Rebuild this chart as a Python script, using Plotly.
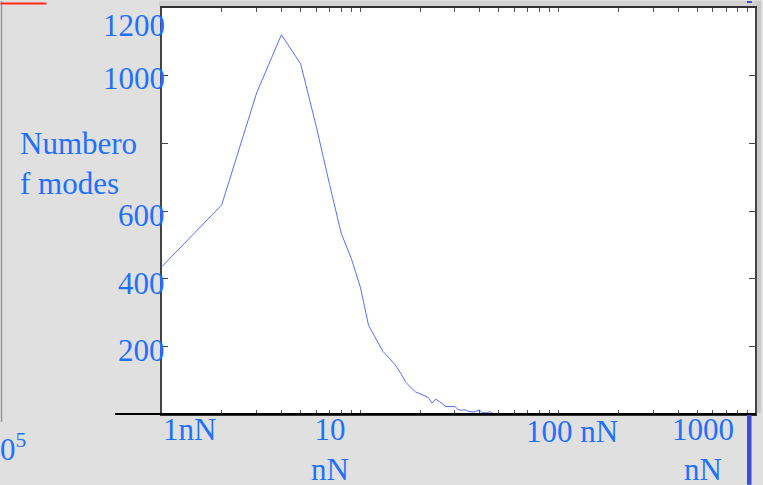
import plotly.graph_objects as go

# ---- data ----
force_nN = list(range(1, 48)) + [60, 100, 1000]
modes = [436, 618, 949, 1121, 1035, 849, 678, 535, 460, 375,
         262, 220, 185, 165, 145, 120, 93, 78, 65, 60,
         55, 49, 32, 44, 37, 28, 22, 22, 23, 22,
         14, 11, 12, 12, 8, 6, 6, 8, 10, 11,
         5, 4, 3, 5, 7, 3, 0, 0, 0, 0]
y_tick_vals = [200, 400, 600, 800, 1000, 1200]
y_tick_text = ["200", "400", "600", "", "1000", "1200"]
x_tick_text = ["1nN", "10<br>nN", "100 nN", "1000<br>nN"]

W, H = 763, 485
L, R, T, B = 162, 757, 7, 414
BLUE = "#1f70ff"
FONT = "Liberation Serif"
FS = 31

def px(x):
    return (x - L) / (R - L)

def py(y):
    return (B - y) / (B - T)

fig = go.Figure()
fig.add_trace(go.Scatter(x=force_nN, y=modes, mode="lines",
                         line=dict(color="#5470ff", width=1),
                         hoverinfo="skip", showlegend=False))

# minor/major log ticks
tv = [m * 10 ** d for d in range(0, 3) for m in range(1, 10)]
fig.update_xaxes(type="log", range=[0, 2.99], tickvals=tv,
                 ticktext=[""] * len(tv), ticks="inside", ticklen=4,
                 tickcolor="#555", showline=True, linecolor="#333",
                 linewidth=1.5, mirror="ticks", showgrid=False,
                 zeroline=False)
fig.update_yaxes(range=[0, 1200], tickvals=y_tick_vals,
                 ticktext=[""] * len(y_tick_vals), ticks="inside",
                 ticklen=6, tickcolor="#444", showline=True,
                 linecolor="#444", linewidth=1.5, mirror="ticks",
                 showgrid=False, zeroline=False)

shapes = []
# top band
shapes.append(dict(type="rect", xref="paper", yref="paper",
                   x0=px(159), x1=px(763), y0=py(6.5), y1=py(0),
                   fillcolor="#d2d2d2", line=dict(width=0), layer="below"))
# right band
shapes.append(dict(type="rect", xref="paper", yref="paper",
                   x0=px(757.5), x1=px(763), y0=py(413), y1=py(0),
                   fillcolor="#c8c8c8", line=dict(width=0), layer="below"))
# bottom thick axis line
shapes.append(dict(type="line", xref="paper", yref="paper",
                   x0=px(115), x1=px(758), y0=py(414), y1=py(414),
                   line=dict(color="black", width=2.2)))
# left vertical gray line
shapes.append(dict(type="line", xref="paper", yref="paper",
                   x0=px(1), x1=px(1), y0=py(422), y1=py(0),
                   line=dict(color="#999999", width=1.5)))
# red short line top-left
shapes.append(dict(type="line", xref="paper", yref="paper",
                   x0=px(0), x1=px(46), y0=py(2.5), y1=py(2.5),
                   line=dict(color="#ff2a10", width=2)))
# blue bar bottom-right
shapes.append(dict(type="rect", xref="paper", yref="paper",
                   x0=px(749), x1=px(753.5), y0=py(485), y1=py(415),
                   fillcolor="#3d4ed6", line=dict(width=0)))
shapes.append(dict(type="rect", xref="paper", yref="paper",
                   x0=px(749), x1=px(754), y0=py(2), y1=py(0),
                   fillcolor="#3d4ed6", line=dict(width=0)))

ann = []
# y tick labels (custom offsets as in picture)
y_label_px = {"200": 350, "400": 283, "600": 215, "1000": 78, "1200": 25}
for v, t in zip(y_tick_vals, y_tick_text):
    if not t:
        continue
    ann.append(dict(text=t, xref="paper", yref="paper", x=px(167),
                    y=py(y_label_px[t]), xanchor="right", yanchor="middle",
                    showarrow=False, font=dict(family=FONT, size=FS, color=BLUE)))
# x tick labels
x_label_pos = [(190, 430), (331, 450), (573, 432), (705, 450)]
for t, (xx, yy) in zip(x_tick_text, x_label_pos):
    ann.append(dict(text=t, xref="paper", yref="paper", x=px(xx),
                    y=py(yy), xanchor="center", yanchor="middle",
                    showarrow=False, align="center",
                    font=dict(family=FONT, size=FS, color=BLUE)))
# y title
ann.append(dict(text="Numbero<br>f modes", xref="paper", yref="paper",
                x=px(18), y=py(163), xanchor="left", yanchor="middle",
                align="left", showarrow=False,
                font=dict(family=FONT, size=FS, color=BLUE)))
# cut-off exponent label
ann.append(dict(text="0<sup>5</sup>", xref="paper", yref="paper",
                x=px(-3), y=py(448), xanchor="left", yanchor="middle",
                showarrow=False,
                font=dict(family=FONT, size=FS, color=BLUE)))

fig.update_layout(width=W, height=H, margin=dict(l=L, r=W - R, t=T, b=H - B),
                  paper_bgcolor="#e0e0e0", plot_bgcolor="white",
                  shapes=shapes, annotations=ann, showlegend=False)

fig.write_html("out.html")
